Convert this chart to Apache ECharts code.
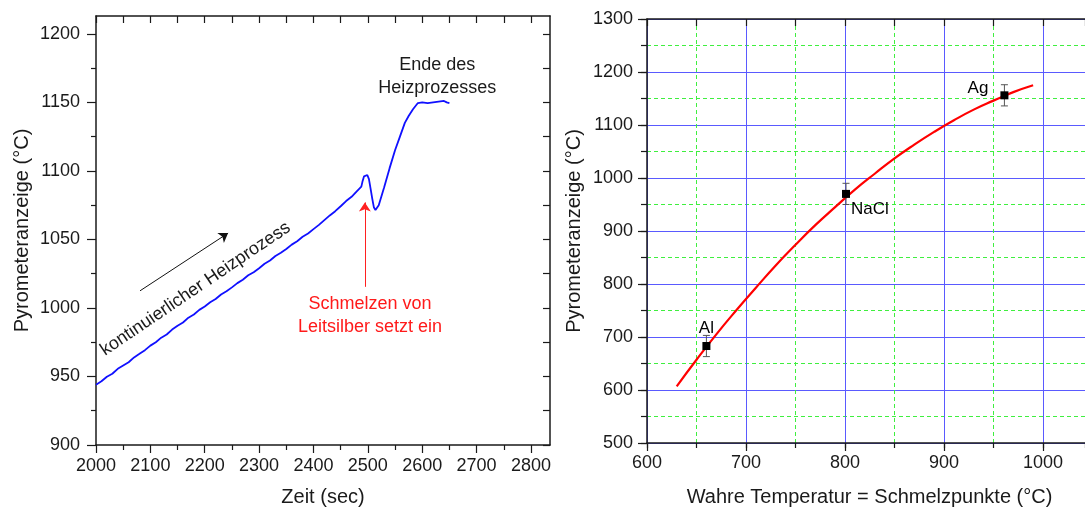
<!DOCTYPE html>
<html>
<head>
<meta charset="utf-8">
<script src="https://cdn.jsdelivr.net/npm/echarts@6/dist/echarts.min.js"></script>
<style>
  html, body { margin: 0; padding: 0; background: #fff; }
  #main { width: 1085px; height: 512px; }
</style>
</head>
<body>
<div id="main"></div>
<script>
// ---- Left panel: pyrometer reading during heating ----
const timeSec = [
  2000, 2010, 2020, 2030, 2040, 2050, 2060, 2070, 2080, 2090,
  2100, 2110, 2120, 2130, 2140, 2150, 2160, 2170, 2180, 2190,
  2200, 2210, 2220, 2230, 2240, 2250, 2260, 2270, 2280, 2290,
  2300, 2310, 2320, 2330, 2340, 2350, 2360, 2370, 2380, 2390,
  2400, 2410, 2420, 2430, 2440, 2450, 2460, 2470, 2480, 2488,
  2490, 2493, 2496, 2499, 2502, 2505, 2508, 2511, 2514, 2517,
  2520, 2530, 2540, 2550, 2559, 2568, 2575, 2583, 2592, 2600,
  2610, 2620, 2630, 2640, 2645, 2650
];
const pyroReading = [
  944.0, 946.5, 949.8, 952.0, 955.6, 958.0, 960.4, 963.9, 966.5, 969.2,
  972.5, 975.0, 978.3, 980.6, 984.2, 987.0, 989.4, 992.9, 995.2, 998.6,
  1001.0, 1004.1, 1006.5, 1009.8, 1012.2, 1015.0, 1018.1, 1020.6, 1023.8, 1026.1,
  1029.0, 1032.2, 1034.6, 1037.9, 1040.3, 1043.0, 1046.2, 1048.7, 1051.9, 1054.3,
  1057.5, 1060.6, 1064.1, 1067.5, 1070.6, 1074.2, 1078.0, 1081.1, 1085.3, 1088.5,
  1092.0, 1096.0, 1097.0, 1097.0, 1094.0, 1087.0, 1080.0, 1073.5, 1071.5, 1072.0,
  1075.0, 1088.0, 1102.0, 1115.0, 1125.0, 1135.0, 1140.0, 1145.0, 1149.5, 1150.0,
  1149.5, 1150.0, 1150.5, 1151.0, 1150.0, 1149.5
];
const timeTicks = [2000, 2100, 2200, 2300, 2400, 2500, 2600, 2700, 2800];
const timeMinorTicks = [2050, 2150, 2250, 2350, 2450, 2550, 2650, 2750];
const readTicks = [900, 950, 1000, 1050, 1100, 1150, 1200];
const readMinorTicks = [925, 975, 1025, 1075, 1125, 1175];

// ---- Right panel: calibration with melting points ----
const meltNames = ['Al', 'NaCl', 'Ag'];
const meltTrue = [660, 801, 961];
const meltPyro = [683, 970, 1156];
const meltErr = [20, 20, 20];
const fitTrue = [630, 650, 670, 690, 710, 730, 750, 770, 790, 810,
                 830, 850, 870, 890, 910, 930, 950, 970, 990];
const fitPyro = [607, 657, 705, 750, 793, 835, 874, 911, 945, 978,
                 1008, 1037, 1063, 1087, 1109, 1129, 1146, 1162, 1175];

const FONT = 'Liberation Sans, Arial, sans-serif';
const INK = '#1a1a1a';
const axisLine = { show: true, lineStyle: { color: INK, width: 1.5 } };
const noLabel = { show: false };
const plain = v => String(v);

const lineData = timeSec.map((t, i) => [t, pyroReading[i]]);
const fitData = fitTrue.map((t, i) => [t, fitPyro[i]]);
const meltData = meltTrue.map((t, i) => ({ value: [t, meltPyro[i]], name: meltNames[i] }));
const errData = meltTrue.map((t, i) => [t, meltPyro[i] - meltErr[i], meltPyro[i] + meltErr[i]]);
const meltLabelPlace = [
  { position: 'top', distance: 5, offset: [0, 0] },
  { position: 'right', distance: 1, offset: [0, 15] },
  { position: 'left', distance: 12, offset: [0, -7] }
];
meltData.forEach((d, i) => { d.label = meltLabelPlace[i]; });

const option = {
  animation: false,
  textStyle: { fontFamily: FONT },
  grid: [
    { left: 96, top: 16, width: 454, height: 431 },
    { left: 647, top: 19, width: 438, height: 425 }
  ],
  xAxis: [
    // left panel, bottom, major
    {
      gridIndex: 0, type: 'value', position: 'bottom', min: 2000, max: 2835,
      axisLine,
      axisTick: { show: true, customValues: timeTicks, length: 8, lineStyle: { color: INK, width: 1.2 } },
      axisLabel: { customValues: timeTicks, formatter: plain, fontSize: 18, color: INK, margin: 12, fontFamily: FONT },
      splitLine: { show: false },
      name: 'Zeit (sec)', nameLocation: 'middle', nameGap: 42,
      nameTextStyle: { fontSize: 20, color: INK, fontFamily: FONT }
    },
    // left panel, bottom, minor ticks
    {
      gridIndex: 0, type: 'value', position: 'bottom', min: 2000, max: 2835,
      axisLine: { show: false },
      axisTick: { show: true, customValues: timeMinorTicks, length: 5, lineStyle: { color: INK, width: 1.2 } },
      axisLabel: noLabel, splitLine: { show: false }
    },
    // left panel, top frame
    {
      gridIndex: 0, type: 'value', position: 'top', min: 2000, max: 2835,
      axisLine,
      axisTick: { show: true, inside: true, customValues: timeTicks.concat(timeMinorTicks), length: 7, lineStyle: { color: INK, width: 1.2 } },
      axisLabel: noLabel, splitLine: { show: false }
    },
    // right panel, top frame + green dashed grid every 50
    {
      gridIndex: 1, type: 'value', position: 'top', min: 600, max: 1042.4, interval: 50,
      axisLine,
      axisTick: { show: true, inside: true, length: 7, lineStyle: { color: INK, width: 1.2 } },
      axisLabel: noLabel,
      splitLine: { show: true, lineStyle: { color: '#3fef3f', width: 1, type: [4, 3] } }
    },
    // right panel, bottom minor ticks
    {
      gridIndex: 1, type: 'value', position: 'bottom', min: 600, max: 1042.4, interval: 50,
      axisLine: { show: false },
      axisTick: { show: true, length: 5, lineStyle: { color: INK, width: 1.2 } },
      axisLabel: noLabel, splitLine: { show: false }
    },
    // right panel, bottom major + blue grid every 100
    {
      gridIndex: 1, type: 'value', position: 'bottom', min: 600, max: 1042.4, interval: 100,
      axisLine,
      axisTick: { show: true, length: 8, lineStyle: { color: INK, width: 1.2 } },
      axisLabel: { formatter: plain, fontSize: 18, color: INK, margin: 11, fontFamily: FONT, showMaxLabel: false },
      splitLine: { show: true, lineStyle: { color: '#5a5aff', width: 1 } },
      name: 'Wahre Temperatur = Schmelzpunkte (°C)', nameLocation: 'middle', nameGap: 44,
      nameTextStyle: { fontSize: 20, color: INK, fontFamily: FONT, padding: [0, 0, 0, 7] }
    }
  ],
  yAxis: [
    // left panel, left major
    {
      gridIndex: 0, type: 'value', position: 'left', min: 900, max: 1213,
      axisLine,
      axisTick: { show: true, customValues: readTicks, length: 9, lineStyle: { color: INK, width: 1.2 } },
      axisLabel: { customValues: readTicks, formatter: plain, fontSize: 18, color: INK, margin: 16, fontFamily: FONT },
      splitLine: { show: false },
      name: 'Pyrometeranzeige (°C)', nameLocation: 'middle', nameGap: 64,
      nameTextStyle: { fontSize: 20, color: INK, fontFamily: FONT }
    },
    // left panel, left minor ticks
    {
      gridIndex: 0, type: 'value', position: 'left', min: 900, max: 1213,
      axisLine: { show: false },
      axisTick: { show: true, customValues: readMinorTicks, length: 5, lineStyle: { color: INK, width: 1.2 } },
      axisLabel: noLabel, splitLine: { show: false }
    },
    // left panel, right frame
    {
      gridIndex: 0, type: 'value', position: 'right', min: 900, max: 1213,
      axisLine,
      axisTick: { show: true, inside: true, customValues: readTicks.concat(readMinorTicks), length: 7, lineStyle: { color: INK, width: 1.2 } },
      axisLabel: noLabel, splitLine: { show: false }
    },
    // right panel, minor ticks + green dashed grid every 50
    {
      gridIndex: 1, type: 'value', position: 'left', min: 500, max: 1300, interval: 50,
      axisLine: { show: false },
      axisTick: { show: true, length: 6, lineStyle: { color: INK, width: 1.2 } },
      axisLabel: noLabel,
      splitLine: { show: true, lineStyle: { color: '#3fef3f', width: 1, type: [4, 3] } }
    },
    // right panel, major + blue grid every 100
    {
      gridIndex: 1, type: 'value', position: 'left', min: 500, max: 1300, interval: 100,
      axisLine,
      axisTick: { show: true, length: 9, lineStyle: { color: INK, width: 1.2 } },
      axisLabel: { formatter: plain, fontSize: 18, color: INK, margin: 14, fontFamily: FONT },
      splitLine: { show: true, lineStyle: { color: '#5a5aff', width: 1 } },
      name: 'Pyrometeranzeige (°C)', nameLocation: 'middle', nameGap: 63,
      nameTextStyle: { fontSize: 20, color: INK, fontFamily: FONT }
    }
  ],
  series: [
    {
      type: 'line', xAxisIndex: 0, yAxisIndex: 0, data: lineData,
      showSymbol: false, symbol: 'none',
      lineStyle: { color: '#1010ff', width: 1.8 },
      z: 5,
      markLine: {
        silent: true, symbol: ['none', 'arrow'], symbolSize: 9,
        label: { show: false },
        lineStyle: { type: 'solid', width: 1 },
        data: [
          [{ coord: [2081, 1012.5], lineStyle: { color: '#111', width: 1 }, itemStyle: { color: '#111' } }, { coord: [2243, 1054.6] }],
          [{ coord: [2494.5, 1015.4], lineStyle: { color: '#ff2020', width: 1 }, itemStyle: { color: '#ff2020' } }, { coord: [2494.5, 1077] }]
        ]
      }
    },
    {
      type: 'line', xAxisIndex: 5, yAxisIndex: 4, data: fitData,
      smooth: true, showSymbol: false, symbol: 'none',
      lineStyle: { color: '#ff0000', width: 2.2 }, z: 6
    },
    {
      type: 'custom', xAxisIndex: 5, yAxisIndex: 4, data: errData, z: 7,
      renderItem: function (params, api) {
        const x = api.value(0);
        const lo = api.coord([x, api.value(1)]);
        const hi = api.coord([x, api.value(2)]);
        const cap = 3.5;
        const style = { stroke: '#555', lineWidth: 1 };
        return {
          type: 'group',
          children: [
            { type: 'line', shape: { x1: lo[0], y1: lo[1], x2: hi[0], y2: hi[1] }, style },
            { type: 'line', shape: { x1: lo[0] - cap, y1: lo[1], x2: lo[0] + cap, y2: lo[1] }, style },
            { type: 'line', shape: { x1: hi[0] - cap, y1: hi[1], x2: hi[0] + cap, y2: hi[1] }, style }
          ]
        };
      }
    },
    {
      type: 'scatter', xAxisIndex: 5, yAxisIndex: 4, data: meltData,
      symbol: 'rect', symbolSize: 8, z: 8,
      itemStyle: { color: '#000', opacity: 1 },
      label: {
        show: true, formatter: '{b}', fontSize: 17, color: '#000', fontFamily: FONT,
        textBorderWidth: 0, opacity: 1
      }
    }
  ]
};

const chart = echarts.init(document.getElementById('main'), null, { renderer: 'canvas' });
chart.setOption(option);

// Annotations on the left panel, anchored in data coordinates
const notes = [
  { text: 'kontinuierlicher Heizprozess', at: [2183, 1013.9], angle: 34, color: INK, lineHeight: 22 },
  { text: 'Schmelzen von\nLeitsilber setzt ein', at: [2504, 994.7], angle: 0, color: '#ff1a1a', lineHeight: 23 },
  { text: 'Ende des\nHeizprozesses', at: [2627.5, 1168.7], angle: 0, color: INK, lineHeight: 23 }
];
chart.setOption({
  graphic: notes.map(n => {
    const p = chart.convertToPixel({ seriesIndex: 0 }, n.at);
    return {
      type: 'text', x: p[0], y: p[1], rotation: n.angle * Math.PI / 180, z: 20,
      style: {
        text: n.text, fill: n.color, font: '18px ' + FONT,
        align: 'center', verticalAlign: 'middle', lineHeight: n.lineHeight
      }
    };
  })
});
</script>
</body>
</html>
